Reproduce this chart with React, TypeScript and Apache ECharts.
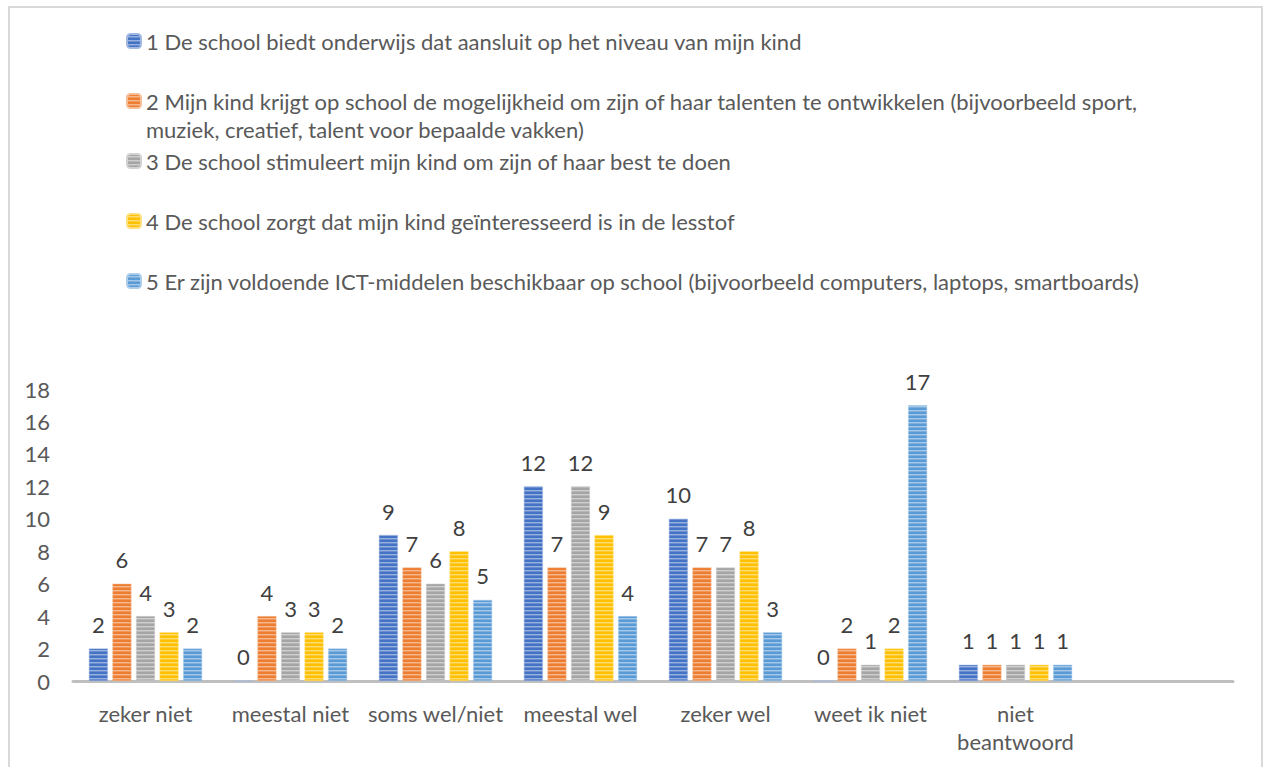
import React, { useEffect, useRef } from "react";
import * as echarts from "echarts";

const categories = ["zeker niet", "meestal niet", "soms wel/niet", "meestal wel", "zeker wel", "weet ik niet", "niet beantwoord", ""];
const seriesNames = [
  "1 De school biedt onderwijs dat aansluit op het niveau van mijn kind",
  "2 Mijn kind krijgt op school de mogelijkheid om zijn of haar talenten te ontwikkelen (bijvoorbeeld sport, muziek, creatief, talent voor bepaalde vakken)",
  "3 De school stimuleert mijn kind om zijn of haar best te doen",
  "4 De school zorgt dat mijn kind geïnteresseerd is in de lesstof",
  "5 Er zijn voldoende ICT-middelen beschikbaar op school (bijvoorbeeld computers, laptops, smartboards)",
];
const values1 = [2, 0, 9, 12, 10, 0, 1];
const values2 = [6, 4, 7, 7, 7, 2, 1];
const values3 = [4, 3, 6, 12, 7, 1, 1];
const values4 = [3, 3, 8, 9, 8, 2, 1];
const values5 = [2, 2, 5, 4, 3, 17, 1];
const seriesValues = [values1, values2, values3, values4, values5];
const yTicks = { min: 0, max: 18, interval: 2 };

const colors = ["#4472C4", "#ED7D31", "#A5A5A5", "#FFC000", "#5B9BD5"];
const legendCenters = [41, 101, 161, 221, 281];

function mix(hex: string, t: number) {
  const n = parseInt(hex.slice(1), 16);
  const r = (n >> 16) & 255, g = (n >> 8) & 255, b = n & 255;
  const f = (c: number) => Math.round(c + (255 - c) * t);
  return `rgb(${f(r)},${f(g)},${f(b)})`;
}

function stripe(hex: string) {
  const c = document.createElement("canvas");
  c.width = 4;
  c.height = 4;
  const ctx = c.getContext("2d")!;
  ctx.fillStyle = hex;
  ctx.fillRect(0, 0, 4, 4);
  ctx.fillStyle = mix(hex, 0.45);
  ctx.fillRect(0, 2, 4, 1);
  ctx.fillStyle = mix(hex, 0.2);
  ctx.fillRect(0, 3, 4, 1);
  return { image: c.toDataURL(), repeat: "repeat", imageWidth: 4, imageHeight: 4 } as any;
}

export default function App() {
  const ref = useRef<HTMLDivElement>(null);
  useEffect(() => {
    const chart = echarts.init(ref.current!, null, { renderer: "svg" });
    const font = "Lato";
    const fs = 22;
    const legends = seriesNames.map((name, i) => ({
      data: [name],
      left: 126,
      top: i === 1 ? legendCenters[i] - 42 : legendCenters[i] - 14,
      padding: 0,
      itemWidth: 14,
      itemHeight: 14,
      selectedMode: false,
      formatter: (n: string) => (n.indexOf(" muziek,") >= 0 ? "\n" + n.replace(" muziek,", "\nmuziek,") : n),
      textStyle: { fontFamily: font, fontSize: fs, color: "#595959", lineHeight: 28 },
    }));
    chart.setOption({
      animation: false,
      backgroundColor: "#fff",
      textStyle: { fontFamily: font },
      graphic: [
        {
          type: "rect",
          shape: { x: 9, y: 7, width: 1253, height: 780 },
          style: { fill: "none", stroke: "#D9D9D9", lineWidth: 2 },
          silent: true,
        },
      ],
      legend: legends,
      grid: { left: 73, right: 32, top: 389, bottom: 86, containLabel: false },
      xAxis: {
        type: "category",
        data: categories,
        axisLine: { lineStyle: { color: "#BFBFBF", width: 3 } },
        axisTick: { show: false },
        axisLabel: {
          interval: 0,
          margin: 18,
          fontFamily: font,
          fontSize: fs,
          lineHeight: 28,
          color: "#595959",
          formatter: (v: string) => v.replace(" beantwoord", "\nbeantwoord"),
        },
      },
      yAxis: {
        type: "value",
        min: yTicks.min,
        max: yTicks.max,
        interval: yTicks.interval,
        axisLine: { show: false },
        axisTick: { show: false },
        splitLine: { show: false },
        axisLabel: { margin: 23, fontFamily: font, fontSize: fs, color: "#595959" },
      },
      series: seriesNames.map((name, i) => ({
        type: "bar",
        name,
        data: seriesValues[i],
        barWidth: 19,
        barGap: "24%",
        itemStyle: { color: stripe(colors[i]), borderColor: mix(colors[i], 0.5), borderWidth: 0.5 },
        label: {
          show: true,
          position: "top",
          distance: 12,
          fontFamily: font,
          fontSize: fs,
          lineHeight: 24,
          color: "#404040",
        },
      })),
    });
    return () => chart.dispose();
  }, []);
  return <div ref={ref} style={{ position: "fixed", left: 0, top: 0, width: 1265, height: 767 }} />;
}
